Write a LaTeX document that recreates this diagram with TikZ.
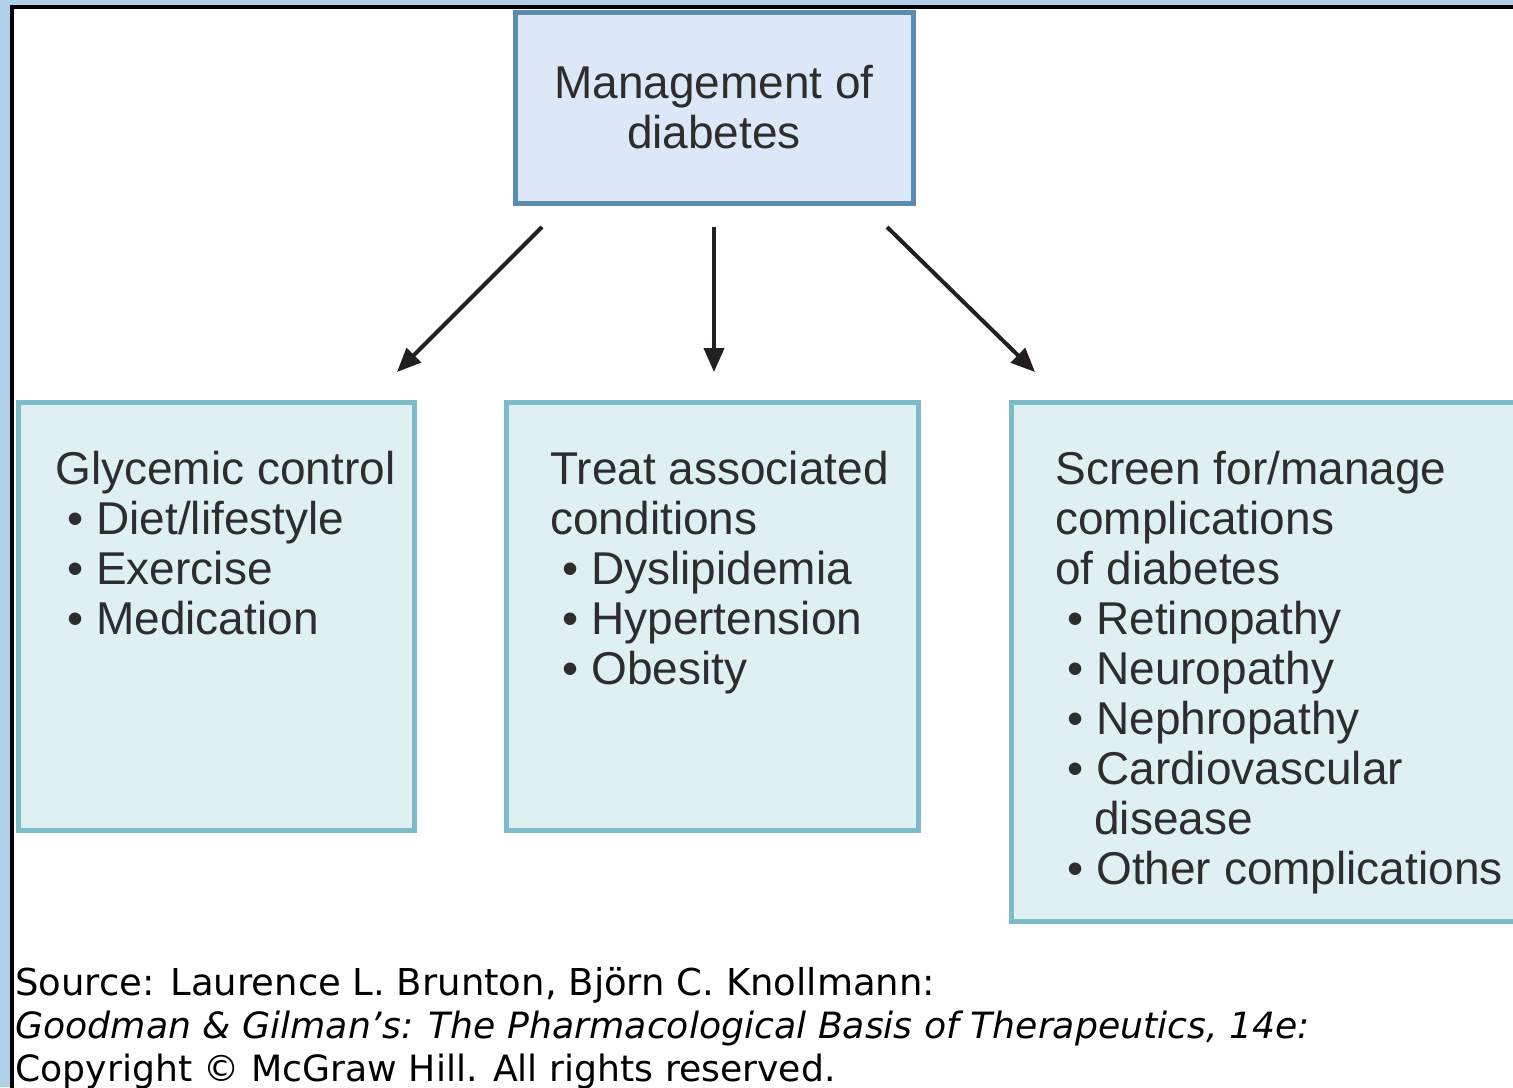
\documentclass[tikz,border=0pt]{standalone}
\usepackage{fontspec}
\setmainfont{Liberation Sans}
\newfontfamily\srcfont{DejaVu Sans}
\usetikzlibrary{positioning, arrows.meta, calc}
\definecolor{outerblue}{RGB}{176,208,234}
\definecolor{topfill}{RGB}{220,232,247}
\definecolor{topline}{RGB}{91,140,176}
\definecolor{boxfill}{RGB}{223,240,243}
\definecolor{boxline}{RGB}{125,187,200}
\definecolor{txtgray}{RGB}{45,45,45}
\definecolor{arrowgray}{RGB}{35,31,32}
\newcommand{\bul}{\hspace*{6pt}\textbullet\ }

\begin{document}
\begin{tikzpicture}[x=0.5pt, y=-0.5pt, >={Triangle[length=12pt, width=10pt]}, font=\fontsize{23}{25}\selectfont]
\tikzset{topbox/.style={draw=topline, fill=topfill, line width=2.5pt, outer sep=0pt, align=center, text=txtgray}, listbox/.style={draw=boxline, fill=boxfill, line width=2.5pt, outer sep=0pt, minimum height=214pt}, txt/.style={align=left, inner sep=0pt, text=txtgray, anchor=base west}, arr/.style={->, draw=arrowgray, line width=2pt}}
\useasboundingbox (0,0) rectangle (1513,1087);
\fill[outerblue] (0,0) rectangle (1513,1087);
\fill[white] (12,7) rectangle (1530,1100);
\draw[line width=2pt] (12,1100) -- (12,7) -- (1530,7);
% top box
\node[topbox, minimum width=199pt, minimum height=95.5pt] (mgmt) at (714,107.5) {Management of\\diabetes};
% three lower boxes
\node[listbox, minimum width=198pt] (gly) at (216,616) {};
\node[listbox, minimum width=206pt] (trt) at (712,616) {};
\node[listbox, minimum width=259.5pt, minimum height=259.5pt] (scr) at (1270.5,661.5) {};
% texts, placed at the baseline of their last line
\node[txt] (glytxt) at (55,634) {Glycemic control\\\bul Diet/lifestyle\\\bul Exercise\\\bul Medication};
\node[txt] (trttxt) at (550,684) {Treat associated\\conditions\\\bul Dyslipidemia\\\bul Hypertension\\\bul Obesity};
\node[txt] (scrtxt) at (1055,884) {Screen for/manage\\complications\\of diabetes\\\bul Retinopathy\\\bul Neuropathy\\\bul Nephropathy\\\bul Cardiovascular\\\hspace*{19.5pt}disease\\\bul Other complications};
\draw[arr] ([xshift=-86pt, yshift=-12pt]mgmt.south) -- ([xshift=90.5pt, yshift=15pt]gly.north);
\draw[arr] ([yshift=-12pt]mgmt.south) -- ($(mgmt.south |- trt.north)+(0pt,15pt)$);
\draw[arr] ([xshift=86.5pt, yshift=-12pt]mgmt.south) -- ([xshift=12pt, yshift=15pt]scr.north west);
% source line
\node[txt, font=\srcfont\fontsize{18.1}{21.5}\selectfont, text=black] (src) at (15,1081) {{\fontsize{18.5}{21.5}\selectfont Source: Laurence L. Brunton, Björn C. Knollmann:}\\\textit{Goodman \& Gilman’s: The Pharmacological Basis of Therapeutics, 14e:}\\Copyright © McGraw Hill. All rights reserved.};
\end{tikzpicture}
\end{document}
